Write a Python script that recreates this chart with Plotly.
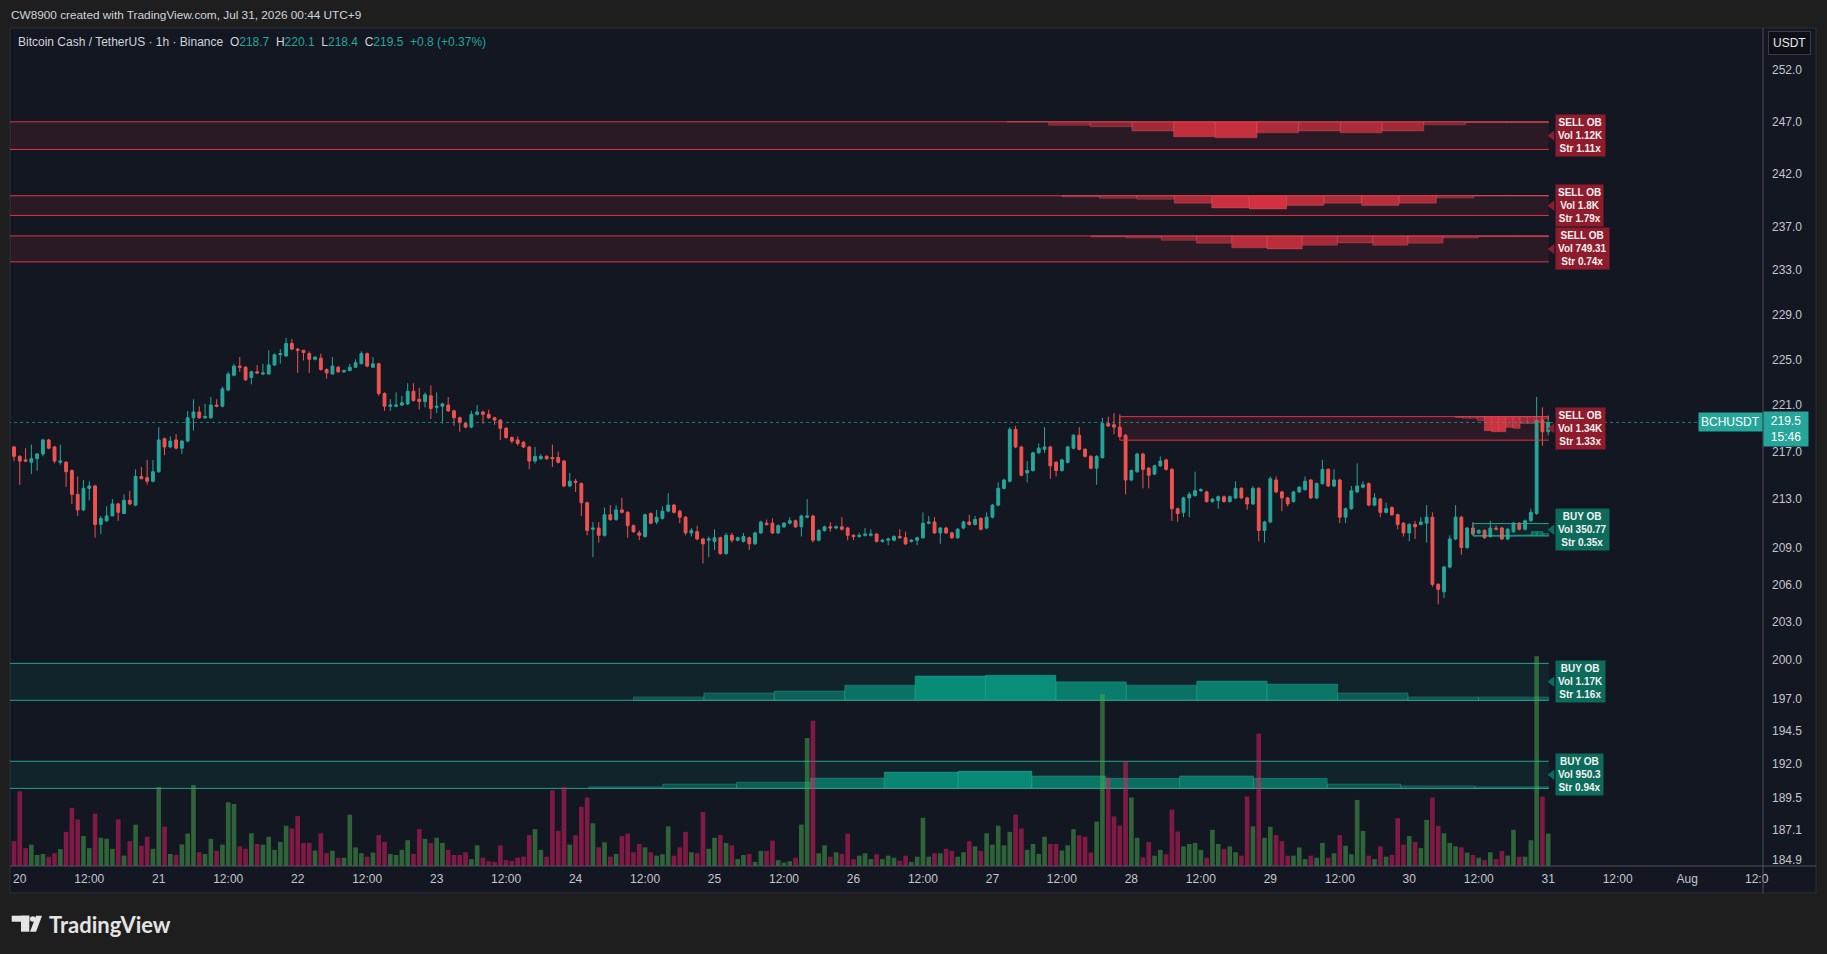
import math
import pandas as pd
import plotly.graph_objects as go

# ---------------- DATA ----------------
BASE = pd.Timestamp("2026-07-20 00:00")   # hour 0 on the x axis
FIRST_BAR_HOUR = -1                        # first candle: 19 Jul 23:00

opens = [
    217.4, 216.6, 216.3, 216.1, 216.4, 216.8, 218.0, 217.4, 216.1, 216.1,
    215.4, 213.4, 212.1, 213.9, 214.1, 210.9, 211.2, 211.6, 212.6, 211.8,
    212.9, 212.5, 214.9, 214.8, 214.5, 215.3, 218.1, 217.4, 218.0, 217.3,
    217.9, 219.9, 220.4, 219.9, 219.9, 221.0, 220.9, 222.3, 223.6, 224.4,
    224.3, 223.4, 223.9, 223.7, 223.7, 224.5, 225.4, 225.3, 226.4, 225.9,
    225.8, 225.5, 225.0, 225.1, 224.1, 223.7, 224.3, 223.9, 224.0, 224.3,
    224.6, 225.5, 224.3, 224.6, 222.0, 220.9, 220.9, 221.0, 221.1, 222.2,
    221.5, 221.3, 221.8, 220.8, 220.9, 221.0, 220.5, 219.9, 219.4, 219.1,
    220.2, 220.4, 220.2, 219.9, 219.7, 219.0, 218.2, 218.0, 217.8, 217.4,
    216.2, 216.4, 216.6, 216.5, 216.5, 216.2, 214.1, 214.5, 214.3, 212.7,
    210.5, 210.6, 210.0, 211.7, 211.3, 212.1, 211.9, 210.8, 210.2, 209.9,
    211.8, 211.1, 211.4, 212.0, 212.5, 212.0, 211.5, 210.2, 210.3, 209.7,
    209.6, 209.5, 209.8, 208.5, 210.0, 209.6, 209.5, 209.8, 209.3, 210.2,
    211.0, 211.0, 210.2, 210.7, 211.0, 211.2, 210.7, 211.5, 211.6, 209.6,
    210.4, 210.7, 210.6, 210.7, 210.6, 210.0, 209.9, 210.0, 210.0, 210.1,
    209.5, 209.6, 209.6, 209.9, 209.8, 209.5, 209.6, 209.8, 211.0, 211.1,
    210.2, 210.6, 210.2, 209.8, 210.6, 211.1, 210.9, 211.4, 210.6, 211.5,
    212.5, 213.9, 214.5, 218.9, 217.4, 215.2, 215.4, 216.9, 217.2, 217.4,
    216.1, 215.4, 216.1, 217.3, 218.4, 217.2, 216.6, 215.6, 216.5, 219.4,
    219.3, 219.1, 218.4, 214.6, 215.3, 216.8, 215.6, 215.1, 215.8, 216.3,
    215.5, 212.2, 211.9, 213.1, 213.3, 213.7, 213.6, 212.8, 212.9, 213.2,
    212.8, 213.1, 213.9, 213.1, 212.6, 213.9, 210.4, 211.1, 214.6, 213.6,
    213.1, 212.8, 213.6, 213.8, 214.6, 213.1, 214.3, 215.5, 214.1, 214.6,
    211.5, 212.2, 213.6, 214.0, 214.3, 212.5, 213.0, 211.9, 212.3, 211.7,
    211.0, 210.2, 210.9, 210.9, 211.0, 211.5, 206.0, 205.4, 207.4, 209.7,
    211.5, 209.0, 210.6, 210.2, 210.4, 209.9, 210.6, 210.6, 209.7, 210.3,
    211.0, 210.5, 211.2, 211.8, 219.7, 218.7,
]
highs = [
    217.5, 216.7, 217.3, 217.6, 216.9, 218.1, 218.1, 217.5, 217.6, 216.2,
    215.5, 214.9, 214.6, 214.5, 214.2, 211.6, 212.4, 213.0, 212.7, 213.4,
    213.7, 215.5, 215.7, 216.3, 216.3, 219.1, 218.2, 218.3, 218.5, 218.0,
    220.5, 221.5, 220.9, 221.1, 221.7, 221.5, 222.6, 223.9, 224.6, 225.2,
    224.4, 224.0, 224.5, 224.6, 225.8, 225.5, 225.9, 226.9, 226.8, 226.0,
    225.8, 225.7, 225.2, 225.5, 224.2, 225.2, 224.4, 224.1, 224.6, 225.0,
    225.7, 225.6, 225.2, 224.7, 222.1, 221.5, 222.1, 221.8, 222.9, 222.9,
    222.5, 222.1, 222.7, 222.1, 221.2, 221.7, 220.6, 220.0, 219.5, 220.5,
    221.0, 220.5, 220.6, 220.0, 219.8, 219.1, 218.3, 218.3, 217.9, 217.5,
    217.4, 216.8, 216.7, 217.6, 217.0, 216.3, 215.2, 214.7, 214.4, 212.8,
    211.1, 211.1, 212.3, 212.5, 212.5, 213.1, 212.0, 210.9, 210.4, 211.8,
    211.9, 212.1, 212.4, 213.5, 212.6, 212.1, 211.6, 210.6, 210.8, 209.8,
    209.9, 210.5, 209.9, 210.2, 210.2, 209.9, 210.2, 209.9, 210.3, 211.2,
    211.3, 211.4, 210.9, 211.1, 211.5, 211.3, 211.7, 213.0, 211.7, 210.5,
    210.8, 211.1, 210.8, 211.5, 210.7, 210.1, 210.2, 210.6, 210.5, 210.2,
    209.7, 209.8, 210.0, 210.5, 210.3, 209.7, 209.9, 211.9, 211.6, 211.5,
    210.7, 210.7, 210.3, 210.6, 211.2, 211.7, 211.6, 211.5, 211.9, 212.6,
    214.4, 214.7, 219.1, 219.2, 217.5, 216.2, 217.0, 217.7, 219.1, 217.5,
    216.2, 216.4, 217.5, 218.5, 219.1, 217.3, 216.7, 216.7, 219.9, 220.0,
    220.3, 220.2, 218.5, 215.5, 216.9, 216.9, 215.7, 215.9, 216.6, 216.4,
    215.6, 212.3, 213.2, 213.6, 215.3, 213.9, 213.7, 213.1, 213.3, 213.3,
    213.3, 214.5, 214.0, 213.2, 214.1, 214.0, 211.2, 214.9, 214.9, 213.7,
    213.2, 213.7, 214.1, 214.9, 214.7, 214.4, 216.3, 215.6, 215.5, 214.7,
    212.3, 214.1, 216.0, 214.5, 214.4, 213.5, 213.1, 212.7, 212.4, 211.8,
    211.1, 211.0, 211.2, 211.5, 212.5, 211.9, 206.1, 207.5, 210.0, 212.5,
    211.6, 210.7, 211.1, 210.5, 210.5, 211.2, 210.8, 210.7, 210.6, 211.1,
    211.1, 211.3, 212.2, 221.7, 220.8, 220.1,
]
lows = [
    216.2, 214.2, 216.1, 215.1, 215.4, 216.6, 217.2, 216.0, 215.9, 214.0,
    212.6, 211.6, 212.0, 212.9, 209.8, 210.1, 211.1, 211.6, 211.2, 211.8,
    212.5, 212.4, 214.7, 214.2, 214.4, 215.2, 216.7, 217.3, 217.2, 216.8,
    217.8, 218.8, 219.8, 219.8, 219.8, 220.8, 220.8, 222.2, 223.5, 223.9,
    223.1, 222.8, 223.7, 223.6, 223.7, 224.4, 224.6, 225.2, 225.8, 223.8,
    224.9, 223.8, 224.9, 224.0, 223.3, 223.7, 223.8, 223.8, 224.0, 224.3,
    224.6, 224.3, 224.3, 221.8, 220.5, 220.5, 220.8, 220.9, 221.0, 221.3,
    220.6, 220.8, 219.8, 220.3, 219.4, 220.4, 219.2, 218.7, 219.0, 219.0,
    220.1, 219.4, 219.8, 219.3, 218.0, 218.1, 217.7, 217.5, 217.3, 215.5,
    216.0, 216.3, 216.3, 215.7, 216.0, 214.0, 214.0, 213.6, 211.6, 210.0,
    208.2, 209.4, 209.9, 211.2, 211.2, 211.8, 209.8, 210.2, 209.6, 209.8,
    210.9, 210.9, 211.3, 211.9, 211.8, 211.0, 210.0, 209.9, 209.6, 207.7,
    208.2, 208.8, 208.4, 208.4, 209.4, 209.5, 209.4, 208.8, 209.2, 210.1,
    210.8, 210.1, 210.1, 210.6, 210.9, 210.6, 209.9, 211.4, 209.4, 209.5,
    210.3, 210.3, 210.5, 210.4, 209.6, 209.6, 209.8, 209.9, 209.9, 209.4,
    209.4, 209.2, 209.5, 209.7, 209.2, 209.4, 209.2, 209.7, 210.9, 210.1,
    209.3, 210.1, 209.7, 209.7, 210.5, 210.8, 210.8, 210.4, 210.5, 211.4,
    212.4, 213.8, 214.4, 217.3, 214.9, 214.4, 215.3, 216.8, 216.9, 214.7,
    214.9, 215.3, 216.0, 217.2, 217.1, 216.5, 215.5, 214.2, 216.4, 219.1,
    218.5, 218.2, 213.4, 214.5, 215.2, 213.9, 213.9, 215.0, 215.7, 215.4,
    211.2, 211.1, 211.5, 211.5, 213.2, 213.6, 212.7, 212.7, 212.2, 212.7,
    212.7, 213.0, 213.0, 212.1, 212.5, 209.5, 209.4, 211.0, 213.5, 212.0,
    212.4, 212.7, 213.5, 213.7, 213.0, 213.0, 214.2, 214.0, 214.0, 211.0,
    211.0, 212.1, 213.5, 213.9, 212.4, 212.4, 211.5, 211.8, 211.6, 210.5,
    209.9, 209.5, 209.7, 210.8, 209.4, 205.8, 204.4, 204.9, 207.3, 209.6,
    208.4, 208.9, 210.0, 210.1, 209.7, 209.8, 210.4, 209.6, 209.6, 210.2,
    210.4, 210.4, 211.1, 211.7, 217.5, 218.4,
]
closes = [
    216.6, 216.2, 216.2, 216.4, 216.8, 218.0, 217.3, 216.2, 216.2, 215.3,
    213.4, 212.1, 213.9, 214.1, 210.9, 211.4, 211.6, 212.6, 211.9, 212.9,
    212.6, 214.9, 214.7, 214.5, 215.3, 218.0, 217.4, 217.9, 217.3, 217.9,
    219.9, 220.4, 219.9, 220.0, 221.0, 220.9, 222.4, 223.7, 224.4, 224.3,
    223.2, 223.9, 223.8, 223.8, 224.5, 225.4, 225.5, 226.4, 225.9, 225.8,
    225.6, 225.0, 225.2, 224.1, 223.8, 224.4, 223.9, 224.0, 224.3, 224.7,
    225.5, 224.4, 224.6, 222.0, 220.9, 221.0, 221.0, 221.2, 222.2, 221.4,
    221.3, 221.9, 220.7, 220.9, 221.1, 220.5, 219.9, 219.5, 219.1, 220.2,
    220.4, 220.2, 219.9, 219.7, 219.0, 218.2, 217.9, 217.7, 217.4, 216.2,
    216.6, 216.6, 216.4, 216.4, 216.1, 214.1, 214.5, 214.4, 212.7, 210.4,
    210.6, 210.0, 211.7, 211.3, 212.1, 211.9, 210.8, 210.3, 210.0, 211.7,
    211.0, 211.5, 212.0, 212.5, 211.9, 211.5, 210.2, 210.4, 209.7, 209.3,
    209.7, 209.8, 208.5, 210.0, 209.6, 209.8, 209.9, 209.3, 210.2, 211.1,
    210.9, 210.2, 210.8, 211.0, 211.2, 210.7, 211.6, 211.6, 209.6, 210.4,
    210.7, 210.6, 210.7, 210.5, 210.0, 209.9, 210.0, 210.1, 210.1, 209.5,
    209.6, 209.7, 209.9, 209.8, 209.3, 209.6, 209.8, 211.0, 211.1, 210.2,
    210.6, 210.2, 209.8, 210.5, 211.1, 210.9, 211.3, 210.5, 211.5, 212.5,
    213.9, 214.6, 218.9, 217.4, 215.0, 215.4, 216.9, 217.3, 217.4, 215.8,
    215.4, 216.3, 217.4, 218.4, 217.2, 216.6, 215.6, 216.6, 219.4, 219.2,
    219.1, 218.3, 214.6, 215.4, 216.8, 215.5, 215.0, 215.8, 216.2, 215.5,
    212.2, 211.8, 213.1, 213.4, 213.7, 213.8, 212.8, 213.0, 213.2, 212.8,
    213.2, 213.9, 213.1, 212.6, 213.9, 210.4, 211.1, 214.7, 213.6, 213.1,
    212.6, 213.6, 214.0, 214.5, 213.1, 214.3, 215.5, 214.1, 214.6, 211.5,
    212.2, 213.7, 214.1, 214.2, 212.5, 213.1, 211.9, 212.2, 211.7, 210.9,
    210.2, 210.9, 210.7, 211.1, 211.5, 206.0, 205.6, 207.4, 209.7, 211.5,
    209.0, 210.6, 210.1, 210.4, 209.8, 210.6, 210.5, 209.7, 210.5, 211.0,
    210.5, 211.2, 211.9, 219.7, 218.7, 219.5,
]
volumes = [
    72, 217, 52, 62, 32, 35, 27, 37, 49, 99,
    169, 135, 87, 52, 152, 82, 79, 50, 135, 30,
    72, 120, 59, 85, 50, 229, 114, 35, 32, 63,
    94, 235, 40, 35, 79, 44, 62, 185, 180, 57,
    50, 95, 64, 62, 85, 47, 70, 117, 109, 145,
    67, 67, 45,
    95, 37, 44, 24, 24, 149, 54, 37, 27, 39,
    90, 70, 35, 32, 47, 75, 35, 107, 79, 67,
    82, 67, 47, 32, 32, 40, 20, 60, 24, 14,
    12, 60, 17, 15, 24, 27, 90, 107, 47, 27,
    220, 102, 229, 62, 89, 172, 199, 124, 54, 69,
    27, 35, 87, 94,
    40, 64, 54, 40, 30, 34, 115, 30, 54, 99,
    40, 37, 157, 50, 82, 90, 67, 60, 20, 32,
    35, 12, 44, 44, 74, 17, 10, 14, 24, 120,
    372, 422, 37, 60, 27, 40, 35, 94, 20, 30,
    37, 20, 34, 20, 30, 24, 15, 30, 12, 27,
    140, 27, 37, 37,
    50, 44, 27, 40, 72, 57, 44, 95, 62, 117,
    60, 99, 149, 109, 47, 64, 35, 85, 64, 64,
    45, 60, 107, 89, 85, 39, 129, 499, 257, 144,
    117, 304, 199, 82, 25, 70, 30, 47, 34, 164,
    100, 57, 64, 67, 47, 24, 105, 64, 50, 57,
    40, 30, 202, 115,
    385, 82, 114, 90, 72, 30, 30, 54, 20, 30,
    24, 67, 24, 37, 90, 59, 34, 192, 102, 30,
    20, 57, 27, 32, 139, 62, 87, 70, 52, 134,
    199, 117, 95, 67, 57, 54, 39, 32, 24, 17,
    40, 20, 44, 30, 105, 27, 27, 75, 609, 202,
    94,
]

# Order blocks
ob_side = ["SELL", "SELL", "SELL", "SELL", "BUY", "BUY", "BUY"]
ob_top = [246.95, 239.9, 236.15, 220.0, 210.97, 199.72, 192.2]
ob_bottom = [244.29, 238.05, 233.76, 217.98, 209.95, 196.85, 190.17]
ob_start_hour = [-30, -30, -30, 190, 251, -30, -30]
ob_end_hour = 264.1
ob_vol = ["1.12K", "1.8K", "749.31", "1.34K", "350.77", "1.17K", "950.3"]
ob_strength = ["1.11x", "1.79x", "0.74x", "1.33x", "0.35x", "1.16x", "0.94x"]

# Volume profiles inside each order block (fraction of the box height)
profile_start_hour = [170.5, 180.0, 185.0, 248.0, 251.0, 106.0, 98.3]
profile_sell_112k = [0.02, 0.12, 0.18, 0.33, 0.54, 0.58, 0.40, 0.33, 0.40, 0.33, 0.11, 0.03, 0.03]
profile_sell_18k = [0.05, 0.13, 0.18, 0.38, 0.62, 0.67, 0.49, 0.38, 0.49, 0.38, 0.12, 0.03, 0.03]
profile_sell_749 = [0.04, 0.08, 0.17, 0.28, 0.46, 0.50, 0.36, 0.27, 0.36, 0.28, 0.08, 0.03, 0.03]
profile_sell_134k = [0.04, 0.07, 0.07, 0.17, 0.60, 0.64, 0.64, 0.46, 0.50, 0.29, 0.29, 0.20, 0.10]
profile_buy_350 = [0.03, 0.03, 0.03, 0.05, 0.05, 0.05, 0.05, 0.08, 0.08, 0.10, 0.36, 0.36, 0.20]
profile_buy_117k = [0.09, 0.20, 0.25, 0.41, 0.66, 0.68, 0.50, 0.41, 0.52, 0.44, 0.20, 0.09, 0.09]
profile_buy_950 = [0.06, 0.16, 0.23, 0.38, 0.60, 0.64, 0.46, 0.37, 0.46, 0.37, 0.16, 0.09, 0.06]
profiles = [profile_sell_112k, profile_sell_18k, profile_sell_749, profile_sell_134k,
            profile_buy_350, profile_buy_117k, profile_buy_950]

price_ticks = [252.0, 247.0, 242.0, 237.0, 233.0, 229.0, 225.0, 221.0, 217.0, 213.0,
               209.0, 206.0, 203.0, 200.0, 197.0, 194.5, 192.0, 189.5, 187.1, 184.9]
time_tick_labels = ["20", "12:00", "21", "12:00", "22", "12:00", "23", "12:00", "24", "12:00",
                    "25", "12:00", "26", "12:00", "27", "12:00", "28", "12:00", "29", "12:00",
                    "30", "12:00", "31", "12:00", "Aug", "12:0"]

# ---------------- STYLE / LAYOUT HELPERS ----------------
W, H = 1827, 954
PL, PR, PT, PB = 10, 1763, 28, 866
BG = "#131722"
UP, DOWN = "#26a69a", "#ef5350"
FONT = "Liberation Sans"


def t(h):
    return BASE + pd.Timedelta(hours=h)


def px(x):
    return (x - PL) / (PR - PL)


def py(y):
    return (PB - y) / (PB - PT)


times = [t(FIRST_BAR_HOUR + k) for k in range(len(closes))]

fig = go.Figure()

# Order block boxes
for k in range(len(ob_side)):
    sell = ob_side[k] == "SELL"
    top, bot = ob_top[k], ob_bottom[k]
    x0, x1 = t(ob_start_hour[k]), t(ob_end_hour)
    fill = "rgba(242,54,69,0.10)" if sell else "rgba(8,153,129,0.10)"
    edge = "rgba(242,54,69,0.9)" if sell else "rgba(34,171,148,0.95)"
    fig.add_trace(go.Scatter(x=[x0, x1, x1, x0, x0], y=[top, top, bot, bot, top],
                             fill="toself", fillcolor=fill, mode="lines",
                             line=dict(width=0), hoverinfo="skip"))
    fig.add_trace(go.Scatter(x=[x1, x0, x0, x1], y=[top, top, bot, bot], mode="lines",
                             line=dict(width=1, color=edge), hoverinfo="skip"))

# Volume profiles inside the boxes
for k in range(len(ob_side)):
    sell = ob_side[k] == "SELL"
    top, bot = ob_top[k], ob_bottom[k]
    fr = profiles[k]
    n = len(fr)
    w = (ob_end_hour - profile_start_hour[k]) / n
    for j, f in enumerate(fr):
        h0 = profile_start_hour[k] + j * w
        h1 = h0 + w
        if sell:
            anchor = top
            tip = top * (bot / top) ** f
            a = min(0.95, 0.35 + 0.75 * f)
            fc = f"rgba(242,54,69,{a:.2f})"
            lc = "rgba(255,120,130,0.35)"
        else:
            anchor = bot
            tip = bot * (top / bot) ** f
            a = min(0.95, 0.30 + 0.90 * f)
            fc = f"rgba(8,153,129,{a:.2f})"
            lc = "rgba(70,210,190,0.35)"
        fig.add_trace(go.Scatter(x=[t(h0), t(h1), t(h1), t(h0), t(h0)],
                                 y=[anchor, anchor, tip, tip, anchor],
                                 fill="toself", fillcolor=fc, mode="lines",
                                 line=dict(width=0.7, color=lc), hoverinfo="skip"))

# Last price dotted line
fig.add_trace(go.Scatter(x=[t(-30), t(330)], y=[closes[-1], closes[-1]], mode="lines",
                         line=dict(color="rgba(38,166,154,0.75)", width=1, dash="dot"),
                         hoverinfo="skip"))

# Candles
fig.add_trace(go.Candlestick(
    x=times, open=opens, high=highs, low=lows, close=closes,
    increasing=dict(line=dict(color=UP, width=1), fillcolor=UP),
    decreasing=dict(line=dict(color=DOWN, width=1), fillcolor=DOWN),
    whiskerwidth=0, hoverinfo="skip"))

# Label notches
for k in range(len(ob_side)):
    sell = ob_side[k] == "SELL"
    mid = math.sqrt(ob_top[k] * ob_bottom[k])
    fig.add_trace(go.Scatter(x=[t(ob_end_hour + 0.55)], y=[mid], mode="markers",
                             marker=dict(symbol="triangle-left", size=9,
                                         color="#8e1c2d" if sell else "#0c6b5b"),
                             hoverinfo="skip"))

# Volume overlay
vol_colors = ["rgba(76,175,80,0.5)" if c >= o else "rgba(233,30,99,0.5)"
              for o, c in zip(opens, closes)]
fig.add_trace(go.Bar(x=times, y=volumes, marker=dict(color=vol_colors, line=dict(width=0)),
                     width=0.8 * 3600 * 1000, yaxis="y2", hoverinfo="skip"))

# ---------------- ANNOTATIONS ----------------
ann = []
for k in range(len(ob_side)):
    sell = ob_side[k] == "SELL"
    mid = math.sqrt(ob_top[k] * ob_bottom[k])
    ann.append(dict(
        x=t(ob_end_hour), y=math.log10(mid), xref="x", yref="y",
        xanchor="left", yanchor="middle", xshift=6, showarrow=False,
        text=f"<b>{ob_side[k]} OB</b><br><b>Vol {ob_vol[k]}</b><br><b>Str {ob_strength[k]}</b>",
        font=dict(size=10, color="#f2f2f2", family=FONT), align="center",
        bgcolor="#8e1c2d" if sell else "#0c6b5b", borderpad=2))

ann.append(dict(x=px(9), y=py(15), xref="paper", yref="paper", xanchor="left",
                yanchor="middle", showarrow=False,
                text="CW8900 created with TradingView.com, Jul 31, 2026 00:44 UTC+9",
                font=dict(size=11.8, color="#d1d4dc", family=FONT)))

chg = closes[-1] - closes[-2]
pct = chg / closes[-2] * 100
sp = "\u00a0\u00a0"
val = lambda v: f"<span style='color:{UP}'>{v}</span>"
legend_text = ("Bitcoin Cash / TetherUS · 1h · Binance" + sp +
               "O" + val(f"{opens[-1]:.1f}") + sp +
               "H" + val(f"{highs[-1]:.1f}") + sp +
               "L" + val(f"{lows[-1]:.1f}") + sp +
               "C" + val(f"{closes[-1]:.1f}") + sp +
               val(f"{chg:+.1f} ({pct:+.2f}%)"))
ann.append(dict(x=px(16), y=py(42), xref="paper", yref="paper", xanchor="left",
                yanchor="middle", showarrow=False, text=legend_text,
                font=dict(size=12, color="#d1d4dc", family=FONT)))

ann.append(dict(x=px(1789.5), y=py(43.5), xref="paper", yref="paper", xanchor="center",
                yanchor="middle", showarrow=False, text="USDT",
                font=dict(size=12, color="#e8e8e8", family=FONT),
                bgcolor="#0d1017", bordercolor="#3a3d46", borderwidth=1, borderpad=4))

ann.append(dict(x=1.0, y=math.log10(closes[-1]), xref="paper", yref="y", xanchor="left",
                yanchor="middle", yshift=-7, showarrow=False,
                text=f"{closes[-1]:.1f}<br>15:46", width=40,
                font=dict(size=12, color="#ffffff", family=FONT),
                bgcolor=UP, borderpad=2))
ann.append(dict(x=1.0, y=math.log10(closes[-1]), xref="paper", yref="y", xanchor="right",
                yanchor="middle", showarrow=False, text="BCHUSDT",
                font=dict(size=12, color="#ffffff", family=FONT),
                bgcolor=UP, borderpad=2))

ann.append(dict(x=px(47), y=py(924), xref="paper", yref="paper", xanchor="left",
                yanchor="middle", showarrow=False, text="<b>TradingView</b>",
                font=dict(size=22, color="#e4e4e4", family="Lato")))

# ---------------- SHAPES ----------------
shapes = [
    dict(type="rect", xref="paper", yref="paper", x0=px(PL), x1=px(1816),
         y0=py(893), y1=py(PT), fillcolor=BG, line=dict(color="#2a2e39", width=1),
         layer="below"),
    dict(type="line", xref="paper", yref="paper", x0=px(PR), x1=px(PR),
         y0=py(893), y1=py(PT), line=dict(color="#50535e", width=1), layer="above"),
    dict(type="line", xref="paper", yref="paper", x0=px(PL), x1=px(1816),
         y0=py(PB), y1=py(PB), line=dict(color="#50535e", width=1), layer="above"),
    # TradingView logo
    dict(type="rect", xref="paper", yref="paper", x0=px(11.7), x1=px(29.3),
         y0=py(921.7), y1=py(915.7), fillcolor="#e4e4e4", line=dict(width=0)),
    dict(type="rect", xref="paper", yref="paper", x0=px(21.0), x1=px(29.3),
         y0=py(931.7), y1=py(915.7), fillcolor="#e4e4e4", line=dict(width=0)),
    dict(type="circle", xref="paper", yref="paper", x0=px(30.0), x1=px(35.6),
         y0=py(921.8), y1=py(916.2), fillcolor="#e4e4e4", line=dict(width=0)),
    dict(type="path", xref="paper", yref="paper",
         path=(f"M {px(36.0)},{py(915.7)} L {px(42.0)},{py(915.7)} "
               f"L {px(36.0)},{py(931.7)} L {px(30.0)},{py(931.7)} Z"),
         fillcolor="#e4e4e4", line=dict(width=0)),
]

fig.update_layout(
    width=W, height=H,
    margin=dict(l=PL, r=W - PR, t=PT, b=H - PB, autoexpand=False),
    paper_bgcolor="#1e1e1e", plot_bgcolor=BG,
    showlegend=False, hovermode=False,
    font=dict(family=FONT, color="#c3c6ce"),
    xaxis=dict(type="date", range=[t(-1.69), t(301.1)],
               tickvals=[t(12 * k) for k in range(len(time_tick_labels))],
               ticktext=time_tick_labels, tickangle=0,
               showgrid=False, zeroline=False, showline=False, ticks="",
               ticklabelstandoff=4,
               tickfont=dict(size=12, color="#c3c6ce", family=FONT),
               rangeslider=dict(visible=False), fixedrange=True),
    yaxis=dict(type="log", range=[math.log10(184.47), math.log10(256.2)], side="right",
               tickvals=price_ticks, ticktext=[f"{v:.1f}" for v in price_ticks],
               showgrid=False, zeroline=False, showline=False, ticks="",
               ticklabelstandoff=8,
               tickfont=dict(size=12, color="#c3c6ce", family=FONT), fixedrange=True),
    yaxis2=dict(overlaying="y", range=[0, 2433.6], visible=False, fixedrange=True),
    annotations=ann,
    shapes=shapes,
)

fig.write_html("out.html", config={"displayModeBar": False, "staticPlot": True},
               post_script="document.body.style.margin='0';document.body.style.overflow='hidden';")
